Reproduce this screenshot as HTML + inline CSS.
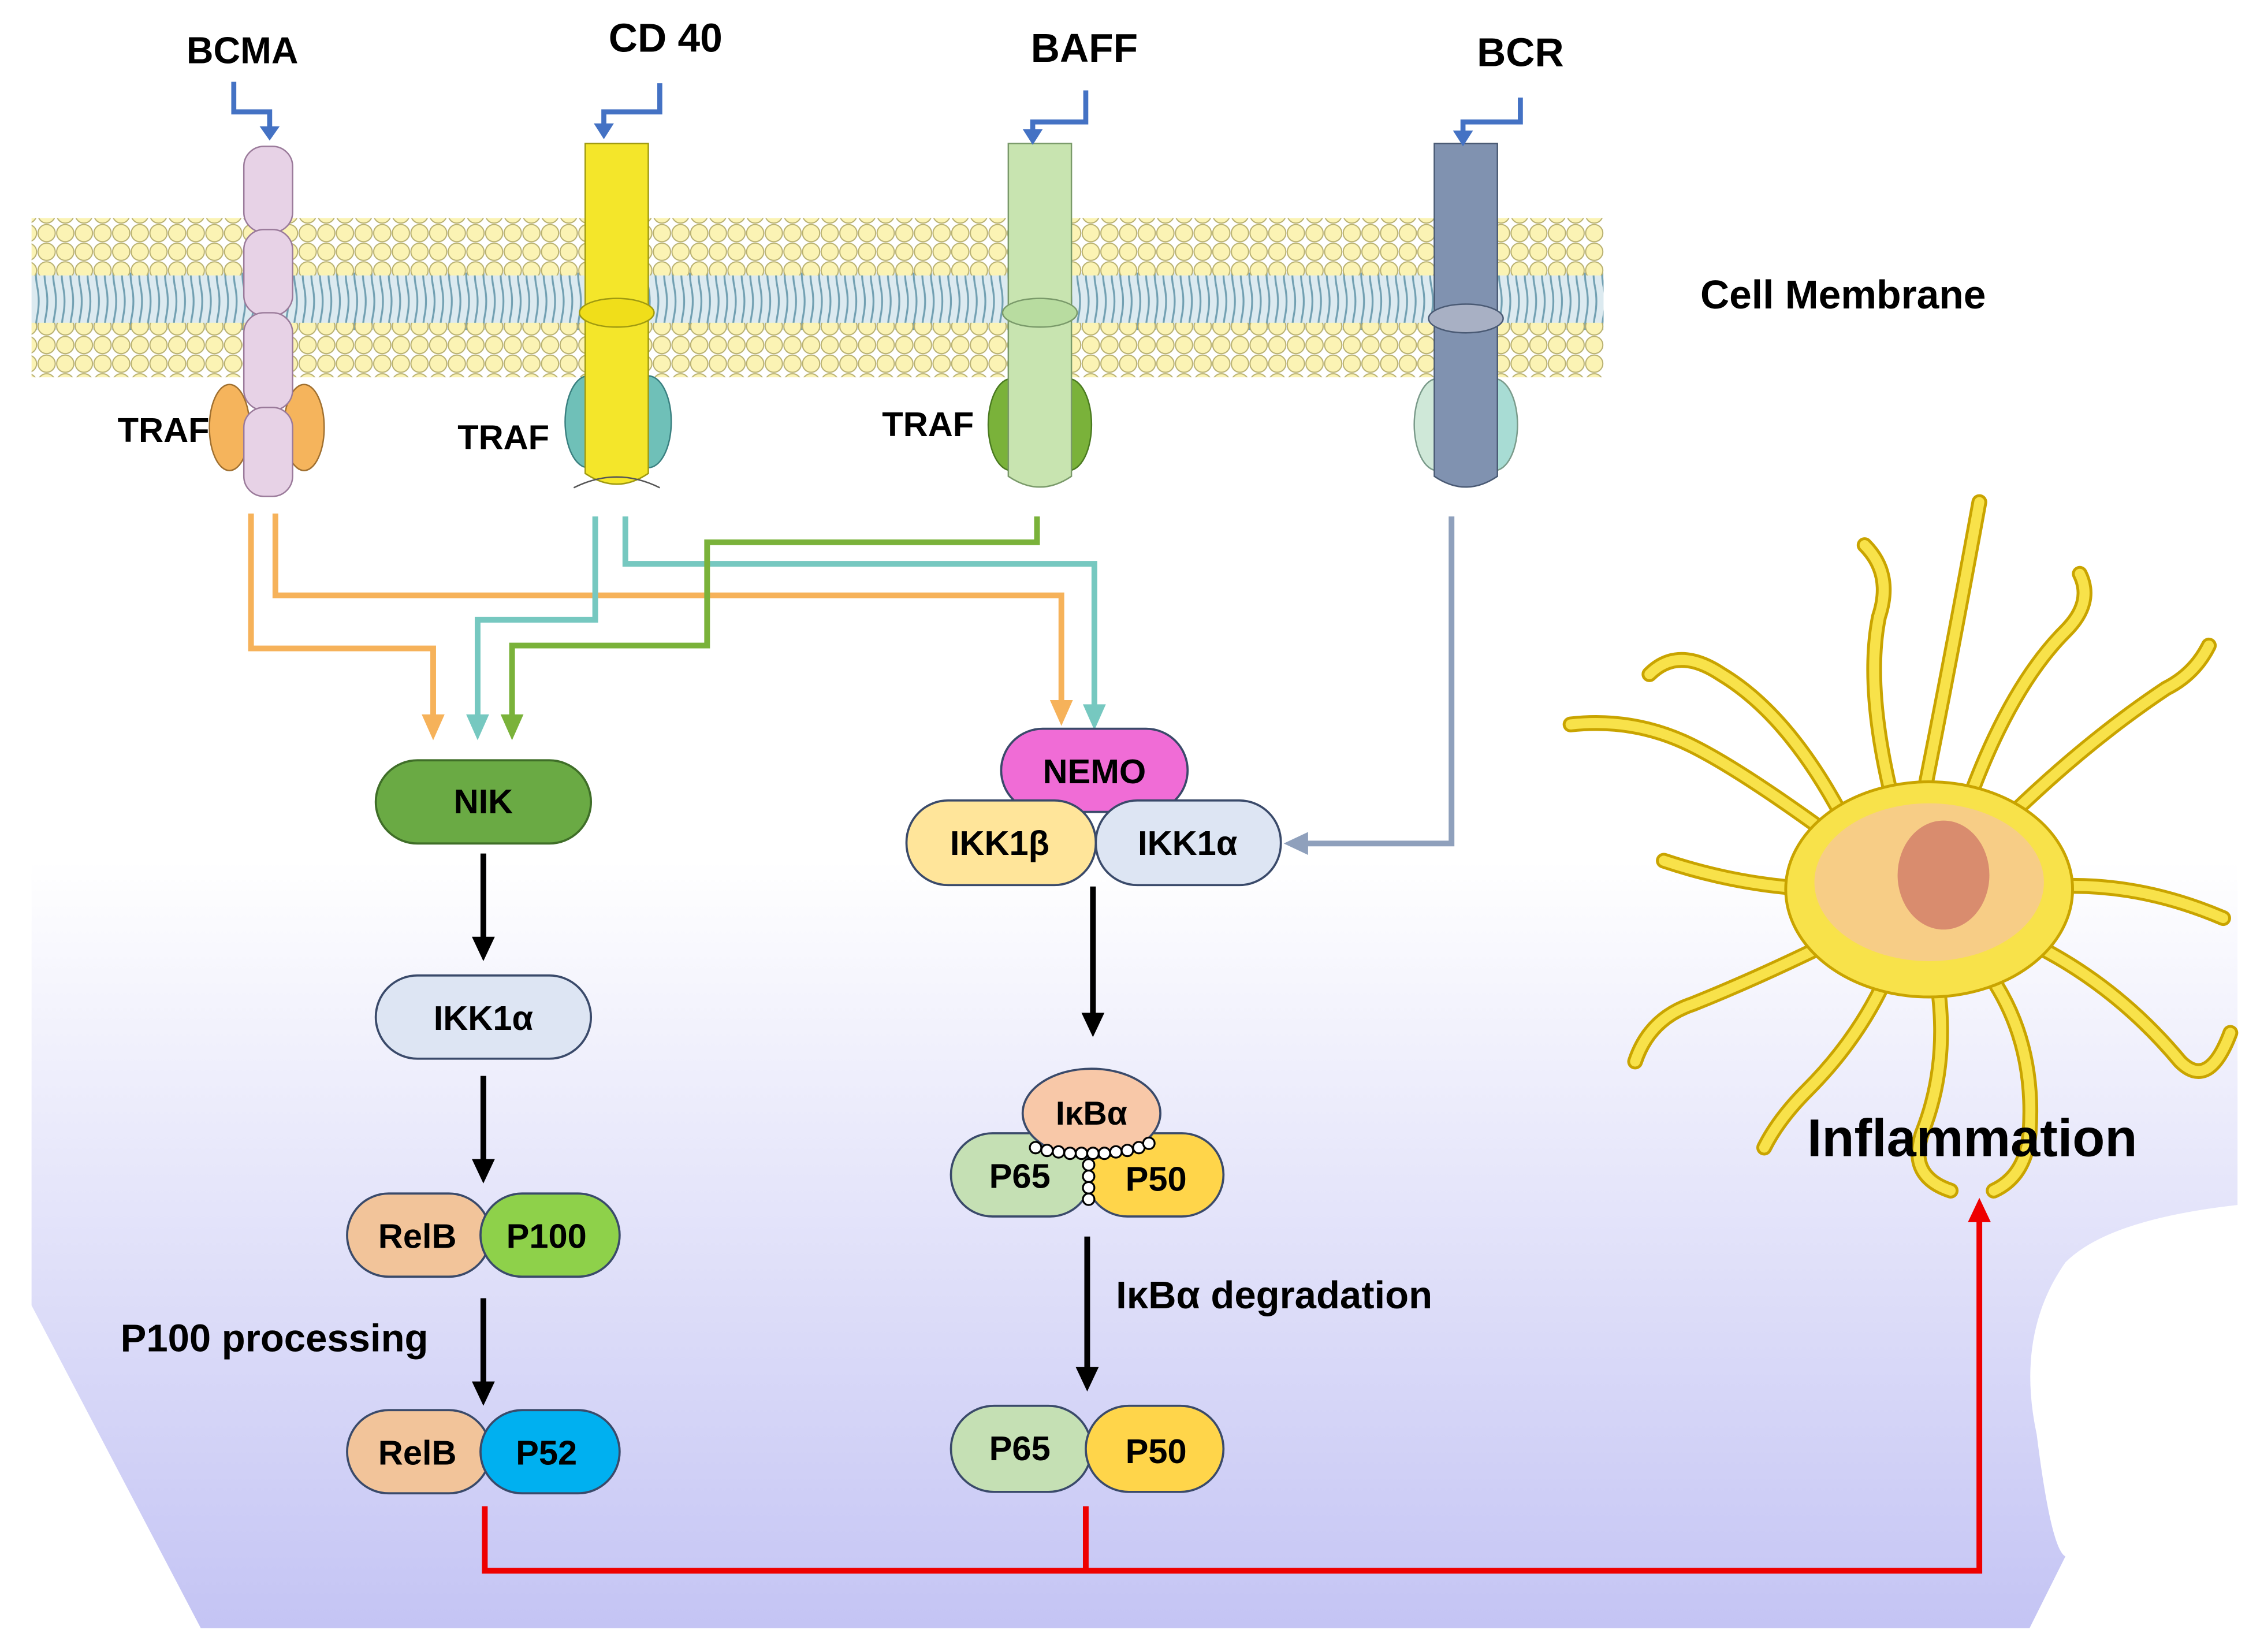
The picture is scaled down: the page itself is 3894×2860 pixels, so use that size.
<!DOCTYPE html>
<html><head><meta charset="utf-8"><style>
html,body{margin:0;padding:0;background:#fff}
svg{display:block}
text{font-family:"Liberation Sans",sans-serif;font-weight:bold;fill:#000}
</style></head><body>
<svg width="3894" height="2860" viewBox="0 0 1568 1151.6" xmlns="http://www.w3.org/2000/svg">
<defs>
<linearGradient id="bg" x1="0" y1="0" x2="0" y2="1">
<stop offset="0" stop-color="#ffffff"/><stop offset="0.25" stop-color="#f0f0fc"/><stop offset="1" stop-color="#c4c4f4"/>
</linearGradient>
<pattern id="heads" x="0" y="0" width="13" height="13" patternUnits="userSpaceOnUse">
<circle cx="6.5" cy="6.5" r="6" fill="#fbf3b4" stroke="#b8b070" stroke-width="0.8"/>
</pattern>
<pattern id="tails" x="0" y="0" width="6" height="40" patternUnits="userSpaceOnUse">
<path d="M2 0 Q4 10 2 20 Q0 30 2 40" stroke="#5c8ea0" stroke-width="1.3" fill="none"/>
</pattern>
</defs>
<rect width="1568" height="1152" fill="#fff"/>
<path d="M22 600 L1560 600 L1560 840 Q1470 850 1440 880 Q1405 930 1420 1000 Q1430 1080 1440 1085 L1415 1135 L140 1135 L22 910 Z" fill="url(#bg)"/>
<!-- membrane -->
<rect x="22" y="190" width="1096" height="40" fill="url(#tails)"/>
<rect x="22" y="190" width="1096" height="40" fill="#9cc4d4" opacity="0.35"/>
<rect x="22" y="152" width="1096" height="40" fill="url(#heads)"/>
<rect x="22" y="225" width="1096" height="38" fill="url(#heads)"/>
<!-- BCMA -->
<g>
<ellipse cx="160" cy="298" rx="14" ry="30" fill="#f5b45c" stroke="#a07030"/>
<ellipse cx="212" cy="298" rx="14" ry="30" fill="#f5b45c" stroke="#a07030"/>
<rect x="170" y="102" width="34" height="60" rx="14" fill="#e7d2e6" stroke="#9a7a9a"/>
<rect x="170" y="160" width="34" height="60" rx="14" fill="#e7d2e6" stroke="#9a7a9a"/>
<rect x="170" y="218" width="34" height="68" rx="14" fill="#e7d2e6" stroke="#9a7a9a"/>
<rect x="170" y="284" width="34" height="62" rx="14" fill="#e7d2e6" stroke="#9a7a9a"/>
</g>
<!-- CD40 -->
<g>
<ellipse cx="410" cy="294" rx="16" ry="32" fill="#6fc0b8" stroke="#3a8080"/>
<ellipse cx="452" cy="294" rx="16" ry="32" fill="#6fc0b8" stroke="#3a8080"/>
<path d="M408 100 L452 100 L452 330 Q430 345 408 330 Z" fill="#f4e62a" stroke="#a09a10"/>
<ellipse cx="430" cy="218" rx="26" ry="10" fill="#f0de1a" stroke="#a09a10"/>
<path d="M400 340 Q430 325 460 340" stroke="#555" fill="none"/>
</g>
<!-- BAFF -->
<g>
<ellipse cx="705" cy="296" rx="16" ry="32" fill="#7ab23a" stroke="#4a7a20"/>
<ellipse cx="745" cy="296" rx="16" ry="32" fill="#7ab23a" stroke="#4a7a20"/>
<path d="M703 100 L747 100 L747 332 Q725 347 703 332 Z" fill="#c8e4b0" stroke="#7a9a6a"/>
<ellipse cx="725" cy="218" rx="26" ry="10" fill="#b8dca0" stroke="#7a9a6a"/>
</g>
<!-- BCR -->
<g>
<ellipse cx="1002" cy="296" rx="16" ry="32" fill="#cfe8d8" stroke="#7a9a8a"/>
<ellipse cx="1042" cy="296" rx="16" ry="32" fill="#a8dcd4" stroke="#7a9a8a"/>
<path d="M1000 100 L1044 100 L1044 332 Q1022 347 1000 332 Z" fill="#8092b0" stroke="#4a5a74"/>
<ellipse cx="1022" cy="222" rx="26" ry="10" fill="#a8b0c4" stroke="#4a5a74"/>
</g>
<!-- blue input arrows -->
<g stroke="#4472c4" stroke-width="3.5" fill="none">
<path d="M163 57 V78 H188 V90"/><path d="M460 58 V78 H421 V88"/><path d="M757 63 V85 H720 V92"/><path d="M1060 68 V85 H1020 V93"/>
</g>
<g fill="#4472c4"><path d="M181 88 L195 88 L188 98z"/><path d="M414 86 L428 86 L421 97z"/><path d="M713 90 L727 90 L720 101z"/><path d="M1013 91 L1027 91 L1020 102z"/></g>
<text x="169" y="44" font-size="26" text-anchor="middle">BCMA</text>
<text x="464" y="36" font-size="28" text-anchor="middle">CD 40</text>
<text x="756" y="43" font-size="28" text-anchor="middle">BAFF</text>
<text x="1060" y="46" font-size="28" text-anchor="middle">BCR</text>
<text x="1285" y="215" font-size="28" text-anchor="middle">Cell Membrane</text>
<text x="82" y="308" font-size="24">TRAF</text>
<text x="319" y="313" font-size="24">TRAF</text>
<text x="615" y="304" font-size="24">TRAF</text>
<!-- connectors -->
<g fill="none" stroke-width="4">
<path d="M175 358 V452 H302 V500" stroke="#f6b25a"/>
<path d="M192 358 V415 H740 V490" stroke="#f6b25a"/>
<path d="M415 360 V432 H333 V500" stroke="#76c8c0"/>
<path d="M436 360 V393 H763 V493" stroke="#76c8c0"/>
<path d="M723 360 V378 H493 V450 H357 V500" stroke="#7ab23a"/>
<path d="M1012 360 V588 H910" stroke="#8fa0bc"/>
</g>
<g>
<path d="M294 498 L310 498 L302 516z" fill="#f6b25a"/>
<path d="M732 488 L748 488 L740 506z" fill="#f6b25a"/>
<path d="M325 498 L341 498 L333 516z" fill="#76c8c0"/>
<path d="M755 491 L771 491 L763 509z" fill="#76c8c0"/>
<path d="M349 498 L365 498 L357 516z" fill="#7ab23a"/>
<path d="M912 580 L912 596 L895 588z" fill="#8fa0bc"/>
</g>
<!-- black arrows -->
<g stroke="#000" stroke-width="4">
<line x1="337" y1="595" x2="337" y2="655"/><line x1="337" y1="750" x2="337" y2="810"/><line x1="337" y1="905" x2="337" y2="965"/>
<line x1="762" y1="618" x2="762" y2="708"/><line x1="758" y1="862" x2="758" y2="955"/>
</g>
<g fill="#000">
<path d="M329 653 L345 653 L337 670z"/><path d="M329 808 L345 808 L337 825z"/><path d="M329 963 L345 963 L337 980z"/>
<path d="M754 706 L770 706 L762 723z"/><path d="M750 953 L766 953 L758 970z"/>
</g>
<!-- nodes -->
<g stroke="#3a4a6a" stroke-width="1.5" font-size="24">
<rect x="262" y="530" width="150" height="58" rx="29" fill="#6aaa44" stroke="#3f6e28"/>
<rect x="262" y="680" width="150" height="58" rx="29" fill="#dde5f3"/>
<rect x="242" y="832" width="100" height="58" rx="29" fill="#f2c49a"/>
<rect x="335" y="832" width="97" height="58" rx="29" fill="#8ed14a"/>
<rect x="242" y="983" width="100" height="58" rx="29" fill="#f2c49a"/>
<rect x="335" y="983" width="97" height="58" rx="29" fill="#00b0f0"/>
<rect x="698" y="508" width="130" height="58" rx="29" fill="#f06cd6"/>
<rect x="632" y="558" width="132" height="59" rx="29" fill="#ffe59a"/>
<rect x="764" y="558" width="129" height="59" rx="29" fill="#dde5f3"/>
<rect x="663" y="790" width="98" height="58" rx="29" fill="#c5e0b4"/>
<rect x="757" y="790" width="96" height="58" rx="29" fill="#ffd54a"/>
<ellipse cx="761" cy="776" rx="48" ry="31" fill="#f8c8a8"/>
<rect x="663" y="980" width="98" height="60" rx="30" fill="#c5e0b4"/>
<rect x="757" y="980" width="96" height="60" rx="30" fill="#ffd54a"/>
</g>
<g fill="#fff" stroke="#000" stroke-width="1.3">
<circle cx="722" cy="800" r="4"/><circle cx="730" cy="802" r="4"/><circle cx="738" cy="803" r="4"/><circle cx="746" cy="804" r="4"/><circle cx="754" cy="804" r="4"/><circle cx="762" cy="804" r="4"/><circle cx="770" cy="804" r="4"/><circle cx="778" cy="803" r="4"/><circle cx="786" cy="802" r="4"/><circle cx="794" cy="800" r="4"/><circle cx="801" cy="797" r="4"/>
<circle cx="759" cy="812" r="4"/><circle cx="759" cy="820" r="4"/><circle cx="759" cy="828" r="4"/><circle cx="759" cy="836" r="4"/>
</g>
<g font-size="24" text-anchor="middle">
<text x="337" y="567">NIK</text>
<text x="337" y="718">IKK1α</text>
<text x="291" y="870">RelB</text><text x="381" y="870">P100</text>
<text x="291" y="1021">RelB</text><text x="381" y="1021">P52</text>
<text x="763" y="546">NEMO</text>
<text x="697" y="596">IKK1β</text><text x="828" y="596">IKK1α</text>
<text x="761" y="784" font-size="23">IκBα</text>
<text x="711" y="828">P65</text><text x="806" y="830">P50</text>
<text x="711" y="1018">P65</text><text x="806" y="1020">P50</text>
</g>
<text x="84" y="942" font-size="27">P100 processing</text>
<text x="778" y="912" font-size="27">IκBα degradation</text>
<!-- dendritic cell -->
<g fill="none" stroke-linecap="round" stroke-linejoin="round">
<g id="arms" stroke="#c9a400" stroke-width="11">
<path d="M1300 600 Q1220 540 1180 520 Q1140 500 1095 505"/>
<path d="M1290 580 Q1250 500 1200 470 Q1170 450 1150 470"/>
<path d="M1320 560 Q1300 480 1310 430 Q1320 400 1300 380"/>
<path d="M1340 560 Q1360 460 1380 350"/>
<path d="M1370 565 Q1400 480 1440 440 Q1460 420 1450 400"/>
<path d="M1390 580 Q1450 520 1510 480 Q1530 470 1540 450"/>
<path d="M1410 620 Q1480 610 1550 640"/>
<path d="M1400 650 Q1470 680 1520 740 Q1540 760 1555 720"/>
<path d="M1380 670 Q1420 720 1415 790 Q1412 820 1390 830"/>
<path d="M1350 680 Q1360 740 1340 790 Q1330 820 1360 830"/>
<path d="M1320 670 Q1300 720 1260 760 Q1240 780 1230 800"/>
<path d="M1290 650 Q1230 680 1180 700 Q1150 710 1140 740"/>
<path d="M1280 620 Q1220 620 1160 600"/>
</g>
<g stroke="#f8e24a" stroke-width="7">
<path d="M1300 600 Q1220 540 1180 520 Q1140 500 1095 505"/>
<path d="M1290 580 Q1250 500 1200 470 Q1170 450 1150 470"/>
<path d="M1320 560 Q1300 480 1310 430 Q1320 400 1300 380"/>
<path d="M1340 560 Q1360 460 1380 350"/>
<path d="M1370 565 Q1400 480 1440 440 Q1460 420 1450 400"/>
<path d="M1390 580 Q1450 520 1510 480 Q1530 470 1540 450"/>
<path d="M1410 620 Q1480 610 1550 640"/>
<path d="M1400 650 Q1470 680 1520 740 Q1540 760 1555 720"/>
<path d="M1380 670 Q1420 720 1415 790 Q1412 820 1390 830"/>
<path d="M1350 680 Q1360 740 1340 790 Q1330 820 1360 830"/>
<path d="M1320 670 Q1300 720 1260 760 Q1240 780 1230 800"/>
<path d="M1290 650 Q1230 680 1180 700 Q1150 710 1140 740"/>
<path d="M1280 620 Q1220 620 1160 600"/>
</g>
</g>
<ellipse cx="1345" cy="620" rx="100" ry="75" fill="#f8e24a" stroke="#c9a400" stroke-width="2"/>
<ellipse cx="1345" cy="615" rx="80" ry="55" fill="#f6c4a0" opacity="0.7"/>
<ellipse cx="1355" cy="610" rx="32" ry="38" fill="#d4806a" opacity="0.85"/>
<text x="1375" y="806" font-size="37" text-anchor="middle">Inflammation</text>
<!-- red -->
<g fill="none" stroke="#ee0000" stroke-width="4">
<path d="M338 1050 V1095 H1380 V850"/><path d="M757 1050 V1095"/>
</g>
<path d="M1372 852 L1388 852 L1380 835z" fill="#ee0000"/>
</svg>
</body></html>
